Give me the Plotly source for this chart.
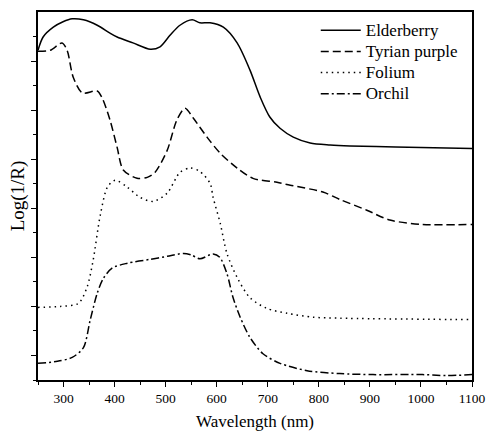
import plotly.graph_objects as go

# Elderberry
eld_x = [250, 260, 280, 299, 317, 339, 366, 391, 405, 436, 470, 489, 509, 528, 552, 567, 587,
         613, 640, 665, 685, 704, 724, 750, 783, 822, 861, 950, 1100]
eld_y = [6.22, 6.49, 6.69, 6.80, 6.86, 6.84, 6.73, 6.57, 6.49, 6.37, 6.24, 6.29, 6.53, 6.73,
         6.84, 6.78, 6.78, 6.69, 6.37, 5.82, 5.27, 4.86, 4.63, 4.45, 4.33, 4.29, 4.27, 4.25, 4.22]

# Tyrian purple
tyr_x = [250, 274, 297, 307, 319, 337, 366, 376, 391, 405, 417, 444, 464, 479, 503, 522, 538,
         554, 581, 607, 640, 671, 718, 744, 808, 841, 894, 939, 1003, 1100]
tyr_y = [6.20, 6.22, 6.37, 6.22, 5.67, 5.35, 5.39, 5.24, 4.80, 4.24, 3.78, 3.61, 3.63, 3.73,
         4.18, 4.80, 5.04, 4.84, 4.45, 4.12, 3.82, 3.61, 3.53, 3.47, 3.33, 3.18, 2.96, 2.76,
         2.67, 2.67]

# Folium
fol_x = [250, 294, 329, 346, 358, 372, 386, 401, 425, 450, 476, 503, 528, 548, 567, 587, 593,
         607, 620, 640, 665, 698, 738, 789, 841, 1100]
fol_y = [0.98, 1.00, 1.06, 1.39, 1.94, 2.86, 3.43, 3.57, 3.43, 3.22, 3.14, 3.31, 3.73, 3.82,
         3.75, 3.51, 3.22, 2.69, 2.08, 1.59, 1.18, 0.96, 0.86, 0.78, 0.76, 0.73]

# Orchil
orc_x = [250, 288, 317, 339, 352, 366, 378, 395, 425, 470, 503, 535, 550, 567, 593, 606, 620,
         632, 646, 665, 690, 724, 777, 841, 906, 1003, 1050, 1100]
orc_y = [-0.16, -0.12, -0.04, 0.16, 0.71, 1.27, 1.57, 1.78, 1.88, 1.96, 2.02, 2.08, 2.05, 1.97,
         2.07, 2.00, 1.67, 1.18, 0.78, 0.37, 0.04, -0.16, -0.31, -0.37, -0.39, -0.39, -0.41,
         -0.39]

x_ticks = [300, 400, 500, 600, 700, 800, 900, 1000, 1100]

series = [
    ("Elderberry", eld_x, eld_y, "solid"),
    ("Tyrian purple", tyr_x, tyr_y, "8px,4px"),
    ("Folium", fol_x, fol_y, "1.5px,4px"),
    ("Orchil", orc_x, orc_y, "8px,3px,2px,3px"),
]

fig = go.Figure()
for name, xs, ys, dash in series:
    fig.add_trace(go.Scatter(
        x=xs, y=ys, name='<span style="font-size:17px">' + name + '</span>', mode="lines",
        line=dict(color="black", width=1.5, dash=dash, shape="spline", smoothing=0.8),
    ))

font = dict(family="Liberation Serif, Times New Roman, serif", color="black")

fig.update_layout(
    width=486, height=433,
    margin=dict(l=38, r=14, t=12, b=53, autoexpand=False),
    paper_bgcolor="white", plot_bgcolor="white",
    font=dict(size=15, **font),
    showlegend=True,
    legend=dict(
        x=0.64, y=0.993, xanchor="left", yanchor="top",
        bgcolor="rgba(0,0,0,0)", borderwidth=0,
        font=dict(size=14, **font),
        tracegroupgap=0, itemwidth=40,
    ),
    xaxis=dict(
        range=[250, 1100], tickvals=x_ticks, automargin=False,
        ticks="outside", ticklen=5, tickwidth=1.3, tickcolor="black",
        showline=True, linecolor="black", linewidth=1.5, mirror=True,
        showgrid=False, zeroline=False,
        tickfont=dict(size=13.5, **font),
        minor=dict(dtick=50, tick0=250, ticks="outside", ticklen=3, tickwidth=1.2,
                   tickcolor="black", showgrid=False),
        title=dict(text="Wavelength (nm)", font=dict(size=17, **font), standoff=10),
    ),
    yaxis=dict(
        range=[-0.5, 7], tickvals=[0, 1, 2, 3, 4, 5, 6], showticklabels=False,
        automargin=False,
        ticks="outside", ticklen=5, tickwidth=1.3, tickcolor="black",
        showline=True, linecolor="black", linewidth=1.5, mirror=True,
        showgrid=False, zeroline=False,
        minor=dict(tickvals=[-0.5, 0.5, 1.5, 2.5, 3.5, 4.5, 5.5, 6.5], ticks="outside",
                   ticklen=3, tickwidth=1.2, tickcolor="black", showgrid=False),
        title=dict(text="Log(1/R)", font=dict(size=19, **font), standoff=2),
    ),
)

fig.write_html("out.html", config={"displayModeBar": False},
               post_script="document.body.style.margin='0';")
